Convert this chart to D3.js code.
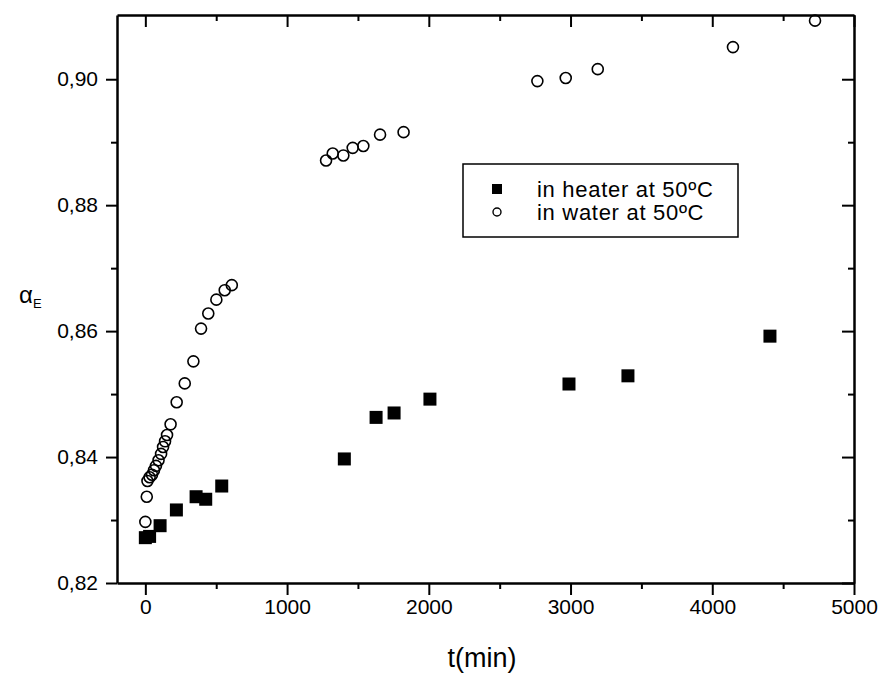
<!DOCTYPE html>
<html>
<head>
<meta charset="utf-8">
<script src="https://cdn.jsdelivr.net/npm/d3@7"></script>
<style>
  body { margin: 0; background: #fff; }
  svg { font-family: 'Liberation Sans', Arial, sans-serif; }
  .axis path, .axis line { stroke: #000; }
  .axis text { font-size: 21px; fill: #000; }
</style>
</head>
<body>
<div id="chart"></div>
<script>
// heater series (filled squares)
const heaterT = [0, 30, 104, 219, 358, 426, 539, 1404, 1628, 1755, 2008, 2989, 3405, 4407];
const heaterA = [0.8272, 0.8274, 0.8291, 0.8316, 0.8337, 0.8333, 0.8354, 0.8397, 0.8463, 0.8470, 0.8492, 0.8516, 0.8529, 0.8592];

// water series (open circles)
const waterT = [0, 10, 15, 30, 47, 61, 75, 93, 111, 125, 139, 153, 178, 221, 278, 339, 393, 444, 501, 560, 610,
  1275, 1322, 1397, 1463, 1538, 1656, 1822, 2766, 2966, 3192, 4146, 4725];
const waterA = [0.8297, 0.8337, 0.8362, 0.8368, 0.8372, 0.8379, 0.8386, 0.8395, 0.8405, 0.8416, 0.8425, 0.8435, 0.8452,
  0.8487, 0.8517, 0.8552, 0.8604, 0.8628, 0.8650, 0.8665, 0.8673,
  0.8871, 0.8882, 0.8879, 0.8891, 0.8894, 0.8912, 0.8916, 0.8997, 0.9002, 0.9016, 0.9051, 0.9093];

const xTicks = [0, 1000, 2000, 3000, 4000, 5000];
const xMinor = [500, 1500, 2500, 3500, 4500];
const yTicks = [0.82, 0.84, 0.86, 0.88, 0.90];
const yMinor = [0.83, 0.85, 0.87, 0.89];

const legendLabels = ["in heater at 50ºC", "in water at 50ºC"];

let width = 880, height = 676,
    margin = {top: 15, right: 26, bottom: 93, left: 117};

let svg = d3.select("#chart").append("svg")
    .attr("width", width)
    .attr("height", height);

let x = d3.scaleLinear().domain([-200, 5000]).range([margin.left, width - margin.right]);
let y = d3.scaleLinear().domain([0.82, 0.9102]).range([height - margin.bottom, margin.top]);

let comma = d => d3.format(".2f")(d).replace(".", ",");

// minor ticks first, then major axes on top
function minorAxis(axis, scale, vals, pos, size) {
    svg.append("g")
        .attr("class", "axis")
        .attr("transform", pos)
        .call(axis(scale).tickValues(vals).tickSize(size).tickFormat(""))
        .call(g => g.select(".domain").remove())
        .selectAll("line").attr("stroke-width", 2);
}
minorAxis(d3.axisBottom, x, xMinor, `translate(0,${y.range()[0]})`, 6);
minorAxis(d3.axisTop, x, xMinor, `translate(0,${margin.top})`, -6);
minorAxis(d3.axisLeft, y, yMinor, `translate(${margin.left},0)`, 6);
minorAxis(d3.axisRight, y, yMinor, `translate(${width - margin.right},0)`, -6);

function styleAxis(g) {
    g.select(".domain").attr("stroke-width", 2.5);
    g.selectAll("line").attr("stroke-width", 2);
}

svg.append("g")
    .attr("class", "axis")
    .attr("transform", `translate(0,${y.range()[0]})`)
    .call(d3.axisBottom(x).tickValues(xTicks).tickSize(12).tickPadding(4).tickFormat(d3.format("d")).tickSizeOuter(0))
    .call(styleAxis);

svg.append("g")
    .attr("class", "axis")
    .attr("transform", `translate(0,${margin.top})`)
    .call(d3.axisTop(x).tickValues(xTicks).tickSize(-12).tickFormat("").tickSizeOuter(0))
    .call(styleAxis);

svg.append("g")
    .attr("class", "axis")
    .attr("transform", `translate(${margin.left},0)`)
    .call(d3.axisLeft(y).tickValues(yTicks).tickSize(11).tickPadding(8).tickFormat(comma).tickSizeOuter(0))
    .call(styleAxis);

svg.append("g")
    .attr("class", "axis")
    .attr("transform", `translate(${width - margin.right},0)`)
    .call(d3.axisRight(y).tickValues(yTicks).tickSize(-12).tickFormat("").tickSizeOuter(0))
    .call(styleAxis);

// axis titles
svg.append("text")
    .attr("x", 482)
    .attr("y", 667)
    .attr("text-anchor", "middle")
    .style("font-size", "27px")
    .text("t(min)");

let yl = svg.append("text")
    .attr("x", 19)
    .attr("y", 303)
    .style("font-size", "24px");
yl.append("tspan").text("α");
yl.append("tspan").attr("dy", 5).style("font-size", "13px").text("E");

// data
let sq = 13;
svg.selectAll("rect.heater")
    .data(heaterT.map((t, i) => [t, heaterA[i]]))
    .enter()
    .append("rect")
    .attr("class", "heater")
    .attr("x", d => x(d[0]) - sq / 2)
    .attr("y", d => y(d[1]) - sq / 2)
    .attr("width", sq)
    .attr("height", sq)
    .style("fill", "#000");

svg.selectAll("circle.water")
    .data(waterT.map((t, i) => [t, waterA[i]]))
    .enter()
    .append("circle")
    .attr("class", "water")
    .attr("cx", d => x(d[0]))
    .attr("cy", d => y(d[1]))
    .attr("r", 5.5)
    .style("fill", "none")
    .style("stroke", "#000")
    .style("stroke-width", 1.6);

// legend
let legend = svg.append("g");
legend.append("rect")
    .attr("x", 463).attr("y", 164)
    .attr("width", 275).attr("height", 73)
    .style("fill", "#fff")
    .style("stroke", "#000")
    .style("stroke-width", 1.5);
legend.append("rect")
    .attr("x", 492).attr("y", 184)
    .attr("width", 10).attr("height", 10)
    .style("fill", "#000");
legend.append("circle")
    .attr("cx", 497).attr("cy", 212)
    .attr("r", 4)
    .style("fill", "none")
    .style("stroke", "#000")
    .style("stroke-width", 1.4);
legend.selectAll("text")
    .data(legendLabels)
    .enter()
    .append("text")
    .attr("x", 537)
    .attr("y", (d, i) => 197 + i * 23)
    .style("font-size", "22px")
    .style("letter-spacing", "0.7px")
    .text(d => d);
</script>
</body>
</html>
